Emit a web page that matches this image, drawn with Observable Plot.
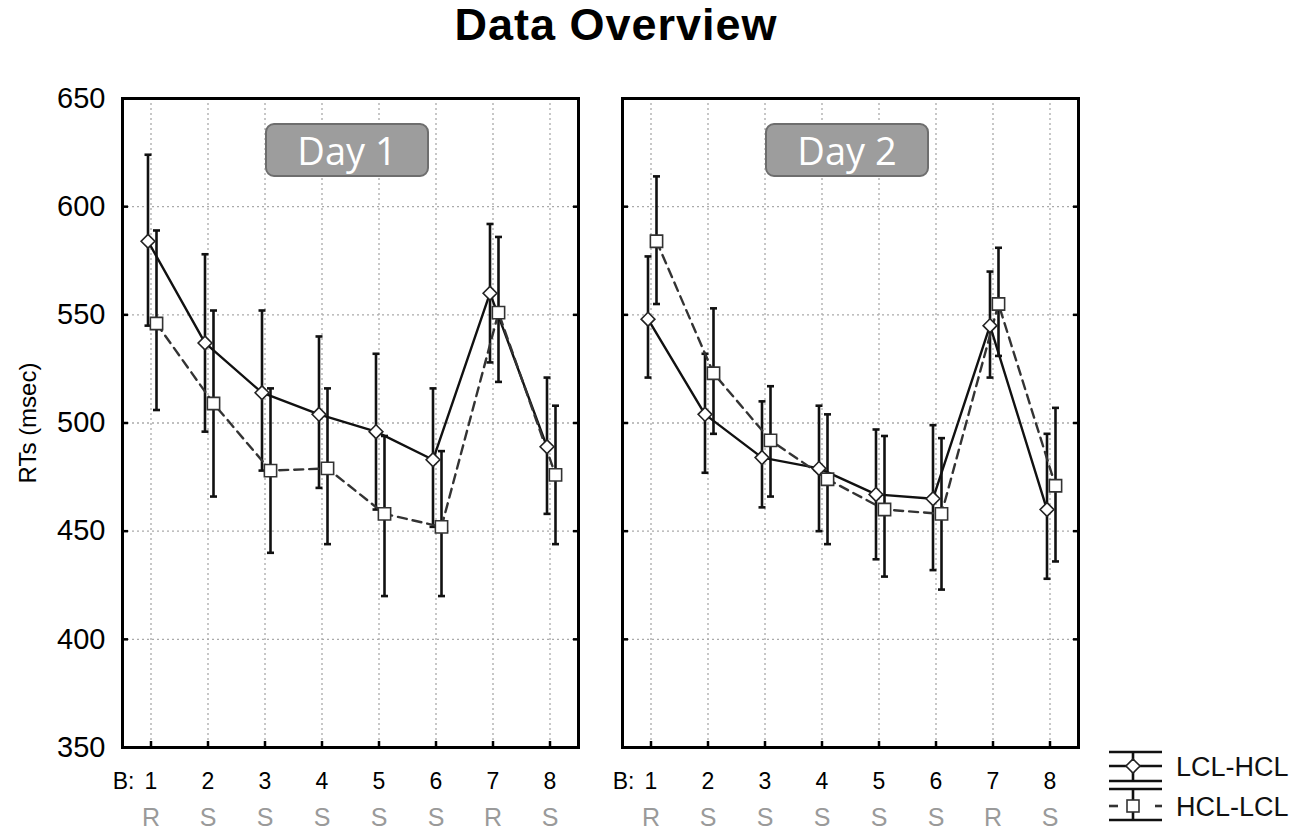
<!DOCTYPE html>
<html>
<head>
<meta charset="utf-8">
<script src="https://cdn.jsdelivr.net/npm/d3@7"></script>
<script src="https://cdn.jsdelivr.net/npm/@observablehq/plot@0.6"></script>
<style>
  html, body { margin: 0; padding: 0; background: #fff; }
  #wrap { position: relative; width: 1300px; height: 835px; font-family: "Liberation Sans", Arial, sans-serif; overflow: hidden; }
  #title { position: absolute; left: 0; width: 1232px; top: 0; text-align: center; font-weight: bold; font-size: 45px; letter-spacing: 1px; line-height: 50px; color: #000; }
  .daybox { position: absolute; top: 123px; width: 160px; height: 50px; border: 2px solid #6e6e6e; border-radius: 9px; background: #9d9d9d; color: #fff; font-family: "Open Sans", sans-serif; font-size: 38px; line-height: 50px; text-align: center; }
  .panel { position: absolute; top: 0; }
  #legend { position: absolute; left: 1100px; top: 740px; }
</style>
</head>
<body>
<div id="wrap">
  <div id="title">Data Overview</div>
</div>
<script>
// ---- data ----
const blocks = [1, 2, 3, 4, 5, 6, 7, 8];
const blockTypes = ["R", "S", "S", "S", "S", "S", "R", "S"];
const yTicks = [350, 400, 450, 500, 550, 600, 650];
const seriesNames = ["LCL-HCL", "HCL-LCL"];
const days = ["Day 1", "Day 2"];

const day1LH = [584, 537, 514, 504, 496, 483, 560, 489];
const day1LHlo = [545, 496, 478, 470, 460, 452, 528, 458];
const day1LHhi = [624, 578, 552, 540, 532, 516, 592, 521];
const day1HL = [546, 509, 478, 479, 458, 452, 551, 476];
const day1HLlo = [506, 466, 440, 444, 420, 420, 519, 444];
const day1HLhi = [589, 552, 516, 516, 494, 487, 586, 508];

const day2LH = [548, 504, 484, 479, 467, 465, 545, 460];
const day2LHlo = [521, 477, 461, 450, 437, 432, 521, 428];
const day2LHhi = [577, 532, 510, 508, 497, 499, 570, 495];
const day2HL = [584, 523, 492, 474, 460, 458, 555, 471];
const day2HLlo = [555, 495, 466, 444, 429, 423, 531, 436];
const day2HLhi = [614, 553, 517, 504, 494, 493, 581, 507];

function rows(series, mean, lo, hi) {
  return blocks.map((b, i) => ({block: b, series, mean: mean[i], lo: lo[i], hi: hi[i]}));
}
const panels = [
  {day: days[0], lh: rows(seriesNames[0], day1LH, day1LHlo, day1LHhi), hl: rows(seriesNames[1], day1HL, day1HLlo, day1HLhi)},
  {day: days[1], lh: rows(seriesNames[0], day2LH, day2LHlo, day2LHhi), hl: rows(seriesNames[1], day2HL, day2HLlo, day2HLhi)}
];

// cap symbol: short horizontal line
const capSymbol = {draw(ctx, size) { const w = Math.sqrt(size / Math.PI); ctx.moveTo(-w, 0); ctx.lineTo(w, 0); }};

const dxLH = -3, dxHL = 5.5;
const wrap = document.getElementById("wrap");

panels.forEach((p, k) => {
  const first = k === 0;
  const width = first ? 600 : 500;
  const marginLeft = first ? 122 : 22;
  const marks = [
    Plot.gridX(blocks, {stroke: "#aaa", strokeOpacity: 1, strokeDasharray: "2,3", strokeWidth: 1.3}),
    Plot.gridY(yTicks.slice(1, -1), {stroke: "#aaa", strokeOpacity: 1, strokeDasharray: "2,3", strokeWidth: 1.3}),
  ];
  for (const [data, dx, dash] of [[p.lh, dxLH, null], [p.hl, dxHL, "9,6"]]) {
    marks.push(
      Plot.ruleX(data, {x: "block", y1: "lo", y2: "hi", dx, stroke: "#111", strokeWidth: 2.6}),
      Plot.dot(data, {x: "block", y: "lo", dx, symbol: capSymbol, r: 3.5, stroke: "#111", strokeWidth: 2.6, fill: "none"}),
      Plot.dot(data, {x: "block", y: "hi", dx, symbol: capSymbol, r: 3.5, stroke: "#111", strokeWidth: 2.6, fill: "none"}),
      Plot.line(data, {x: "block", y: "mean", dx, curve: "linear", stroke: dash ? "#333" : "#111", strokeWidth: 2.4, strokeDasharray: dash})
    );
  }
  marks.push(
    Plot.dot(p.lh, {x: "block", y: "mean", dx: dxLH, symbol: "diamond2", r: 6.2, fill: "white", stroke: "#222", strokeWidth: 1.6}),
    Plot.dot(p.hl, {x: "block", y: "mean", dx: dxHL, symbol: "square2", r: 7.8, fill: "white", stroke: "#333", strokeWidth: 1.6}),
    Plot.frame({stroke: "#000", strokeWidth: 3}),
    // inward ticks
    Plot.axisY(yTicks, {anchor: "left", tickSize: 6, dx: 6, tickFormat: () => "", label: null, strokeWidth: 2.5}),
    Plot.axisY(yTicks, {anchor: "right", tickSize: 6, dx: -6, tickFormat: () => "", label: null, strokeWidth: 2.5}),
    Plot.axisX(blocks, {anchor: "bottom", tickSize: 6, dy: -6, tickFormat: () => "", label: null, strokeWidth: 2.5}),
    // x labels
    Plot.axisX(blocks, {anchor: "bottom", tickSize: 0, tickPadding: 25, fontSize: 23, fill: "#000", label: null, tickFormat: d => String(d)}),
    Plot.axisX(blocks, {anchor: "bottom", tickSize: 0, tickPadding: 61, fontSize: 25, fill: "#9a9a9a", label: null, tickFormat: d => blockTypes[d - 1]}),
    Plot.text(["B:"], {frameAnchor: "bottom-left", textAnchor: "end", lineAnchor: "top", dx: 12, dy: 25, fontSize: 23, fill: "#000"})
  );
  if (first) {
    marks.push(
      Plot.axisY(yTicks, {anchor: "left", tickSize: 0, tickPadding: 17, fontSize: 29, fill: "#000", label: null, tickFormat: d => String(d)}),
      Plot.text(["RTs (msec)"], {frameAnchor: "left", rotate: -90, dx: -94, fontSize: 24, fill: "#000", textAnchor: "middle"})
    );
  }
  const chart = Plot.plot({
    width, height: 835,
    marginLeft, marginRight: 22, marginTop: 98, marginBottom: 88,
    x: {domain: [0.5, 8.5], axis: null},
    y: {domain: [350, 650], axis: null},
    style: {background: "transparent", overflow: "visible", fontFamily: "Liberation Sans, Arial, sans-serif", color: "#000"},
    marks
  });
  chart.classList.add("panel");
  chart.style.left = (first ? 0 : 600) + "px";
  wrap.appendChild(chart);

  const box = document.createElement("div");
  box.className = "daybox";
  box.textContent = p.day;
  const panelLeft = (first ? 0 : 600) + marginLeft;
  const panelWidth = width - marginLeft - 22;
  box.style.left = (panelLeft + panelWidth / 2 - 3 - 82) + "px";
  wrap.appendChild(box);
});

// legend
const ns = "http://www.w3.org/2000/svg";
const leg = document.createElementNS(ns, "svg");
leg.setAttribute("id", "legend");
leg.setAttribute("width", 200);
leg.setAttribute("height", 95);
leg.innerHTML = `
  <g stroke="#111" stroke-width="2.6" fill="none">
    <line x1="9" x2="62" y1="12" y2="12"/>
    <line x1="9" x2="62" y1="26" y2="26"/>
    <line x1="9" x2="62" y1="41" y2="41"/>
    <line x1="33" x2="33" y1="12" y2="41"/>
    <line x1="9" x2="62" y1="49" y2="49"/>
    <line x1="9" x2="62" y1="80" y2="80"/>
    <line x1="33" x2="33" y1="49" y2="80"/>
    <line x1="9" x2="18" y1="66" y2="66" stroke="#333"/>
    <line x1="55" x2="62" y1="66" y2="66" stroke="#333"/>
  </g>
  <path d="M33,19L40,26L33,33L26,26Z" fill="white" stroke="#222" stroke-width="1.6"/>
  <rect x="27" y="60" width="12" height="12" fill="white" stroke="#333" stroke-width="1.6"/>
  <g font-family="Liberation Sans, Arial, sans-serif" font-size="27" fill="#111">
    <text x="76" y="36">${seriesNames[0]}</text>
    <text x="76" y="76">${seriesNames[1]}</text>
  </g>`;
wrap.appendChild(leg);
</script>
</body>
</html>
